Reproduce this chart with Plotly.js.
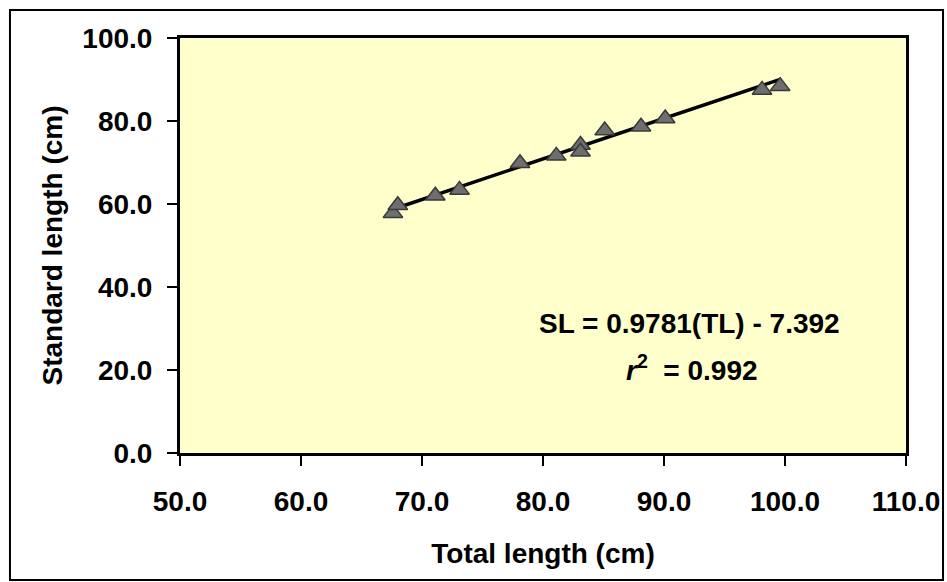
<!DOCTYPE html>
<html>
<head>
<meta charset="utf-8">
<script src="https://cdn.plot.ly/plotly-3.0.1.min.js"></script>
<style>
  html, body { margin: 0; padding: 0; background: #ffffff; }
  #chart { width: 947px; height: 582px; }
</style>
</head>
<body>
<div id="chart"></div>
<script>
// Total length (cm) of each fish
var totalLength = [67.6, 68.0, 71.1, 73.1, 78.1, 81.1, 83.1, 83.1, 85.1, 88.1, 90.1, 98.1, 99.6];
// Standard length (cm) of each fish
var standardLength = [57.8, 59.7, 62.0, 63.4, 69.8, 71.6, 74.2, 72.6, 77.7, 78.6, 80.6, 87.5, 88.4];
// Fitted regression shown on the chart
var slope = 0.9781;
var intercept = -7.392;
var r2 = 0.992;
var xTicks = [50, 60, 70, 80, 90, 100, 110];
var yTicks = [0, 20, 40, 60, 80, 100];

var xMin = Math.min.apply(null, totalLength);
var xMax = Math.max.apply(null, totalLength);
var fitX = [xMin, xMax];
var fitY = fitX.map(function (x) { return slope * x + intercept; });

var FONT = 'Liberation Sans, Arial, sans-serif';
var FS = 28;

var traces = [
  {
    x: fitX, y: fitY, type: 'scatter', mode: 'lines',
    line: { color: '#000000', width: 3.5 },
    hoverinfo: 'skip', showlegend: false
  },
  {
    x: totalLength, y: standardLength, type: 'scatter', mode: 'markers',
    marker: { symbol: 'triangle-up', size: 17, color: '#6e6e6e',
              line: { color: '#3a3a3a', width: 1.5 } },
    showlegend: false
  }
];

var layout = {
  width: 947, height: 582,
  margin: { l: 180, r: 41, t: 38, b: 129 },
  paper_bgcolor: '#ffffff',
  plot_bgcolor: '#ffffcc',
  font: { family: FONT, color: '#000000' },
  showlegend: false,
  xaxis: {
    range: [50, 110], tickvals: xTicks,
    ticktext: xTicks.map(function (v) { return v.toFixed(1); }),
    showgrid: false, zeroline: false,
    showline: true, linecolor: '#000000', linewidth: 3, mirror: true,
    ticks: 'outside', ticklen: 10, tickwidth: 2.5, tickcolor: '#000000',
    ticklabelstandoff: 11,
    tickfont: { family: FONT, size: FS, weight: 'bold', color: '#000000' },
    title: { text: 'Total length (cm)', standoff: 28,
             font: { family: FONT, size: FS, weight: 'bold', color: '#000000' } }
  },
  yaxis: {
    range: [0, 100], tickvals: yTicks,
    ticktext: yTicks.map(function (v) { return v.toFixed(1); }),
    showgrid: false, zeroline: false,
    showline: true, linecolor: '#000000', linewidth: 3, mirror: true,
    ticks: 'outside', ticklen: 10, tickwidth: 2.5, tickcolor: '#000000',
    ticklabelstandoff: 9,
    tickfont: { family: FONT, size: FS, weight: 'bold', color: '#000000' },
    title: { text: 'Standard length (cm)', standoff: 12,
             font: { family: FONT, size: FS, weight: 'bold', color: '#000000' } }
  },
  annotations: [
    {
      xref: 'x', yref: 'y', x: 92.1, y: 31.1,
      text: 'SL = ' + slope.toFixed(4) + '(TL) - ' + Math.abs(intercept).toFixed(3),
      showarrow: false, xanchor: 'center', yanchor: 'middle',
      font: { family: FONT, size: FS, weight: 'bold', color: '#000000' }
    },
    {
      xref: 'x', yref: 'y', x: 92.3, y: 20.5,
      text: '<i>r</i><sup>2</sup>  = ' + r2.toFixed(3),
      showarrow: false, xanchor: 'center', yanchor: 'middle',
      font: { family: FONT, size: FS, weight: 'bold', color: '#000000' }
    }
  ],
  shapes: [
    {
      type: 'rect', xref: 'paper', yref: 'paper',
      x0: -0.2342, x1: 1.0510, y0: -0.306, y1: 1.0675,
      line: { color: '#000000', width: 2 }, fillcolor: 'rgba(0,0,0,0)'
    }
  ]
};

Plotly.newPlot('chart', traces, layout, { displayModeBar: false, staticPlot: true });
</script>
</body>
</html>
